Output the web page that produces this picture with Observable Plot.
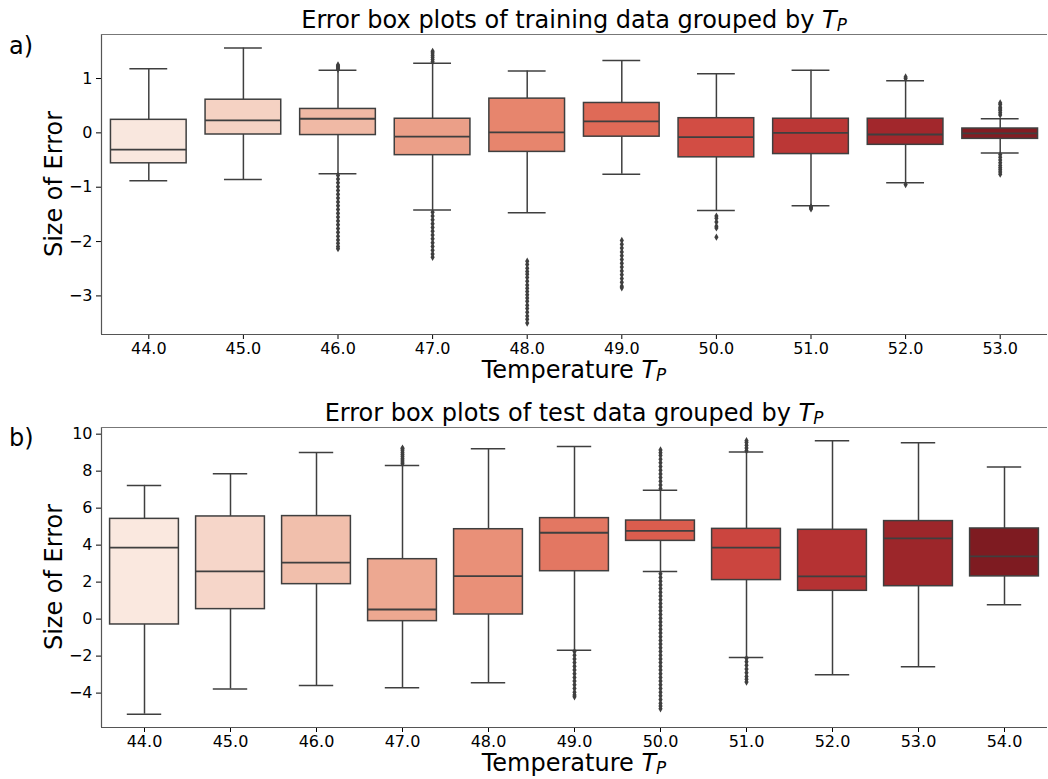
<!DOCTYPE html>
<html>
<head>
<meta charset="utf-8">
<script src="https://cdn.jsdelivr.net/npm/d3@7"></script>
<script src="https://cdn.jsdelivr.net/npm/@observablehq/plot@0.6"></script>
<style>
  html, body { margin: 0; padding: 0; background: #fff; }
  #wrap { position: relative; width: 1048px; height: 779px; font-family: "DejaVu Sans", sans-serif; color: #000; overflow: hidden; }
  .txt { position: absolute; font-size: 24px; line-height: 20px; white-space: nowrap; }
  .center { text-align: center; }
  .sub { font-size: 0.7em; position: relative; top: 0.22em; line-height: 0; }
  .panel { position: absolute; left: 0; }
</style>
</head>
<body>
<div id="wrap"></div>
<script>
// ---- Training data (panel a) ----
const trainTemps = ["44.0", "45.0", "46.0", "47.0", "48.0", "49.0", "50.0", "51.0", "52.0", "53.0"];
const trainWhiskLo = [-0.88, -0.86, -0.75, -1.42, -1.47, -0.76, -1.43, -1.34, -0.92, -0.37];
const trainQ1      = [-0.56, -0.03, -0.04, -0.41, -0.35, -0.07, -0.45, -0.39, -0.22, -0.11];
const trainMedian  = [-0.31,  0.23,  0.26, -0.07,  0.01,  0.21, -0.08,  0.00, -0.03, -0.01];
const trainQ3      = [ 0.24,  0.61,  0.44,  0.26,  0.63,  0.55,  0.27,  0.26,  0.26,  0.08];
const trainWhiskHi = [ 1.18,  1.56,  1.15,  1.28,  1.14,  1.33,  1.09,  1.15,  0.96,  0.26];
const trainOutliers = [
  [],
  [],
  [1.17, 1.19, 1.21, 1.23, 1.25,
   -0.78, -0.85, -0.92, -0.99, -1.06, -1.13, -1.2, -1.27, -1.34, -1.41, -1.48, -1.55,
   -1.62, -1.69, -1.76, -1.83, -1.9, -1.97, -2.03, -2.09, -2.13],
  [1.31, 1.35, 1.39, 1.43, 1.47, 1.5,
   -1.46, -1.53, -1.6, -1.67, -1.74, -1.81, -1.88, -1.95, -2.02, -2.09, -2.16, -2.23, -2.29],
  [-2.36, -2.42, -2.49, -2.55, -2.6, -2.66, -2.73, -2.8, -2.86, -2.92, -2.98, -3.04,
   -3.1, -3.17, -3.23, -3.3, -3.37, -3.43, -3.5],
  [-1.98, -2.05, -2.12, -2.19, -2.26, -2.33, -2.4, -2.47, -2.54, -2.61, -2.68, -2.75, -2.82, -2.85],
  [-1.53, -1.57, -1.64, -1.72, -1.75, -1.92],
  [-1.36, -1.38, -1.4],
  [1.0, 1.03, -0.95],
  [0.33, 0.37, 0.41, 0.44, 0.47, 0.52, 0.55,
   -0.4, -0.45, -0.5, -0.55, -0.6, -0.64, -0.68, -0.72, -0.76]
];
const trainTicksY = [-3, -2, -1, 0, 1];

// ---- Test data (panel b) ----
const testTemps = ["44.0", "45.0", "46.0", "47.0", "48.0", "49.0", "50.0", "51.0", "52.0", "53.0", "54.0"];
const testWhiskLo = [-5.14, -3.78, -3.59, -3.71, -3.44, -1.68, 2.58, -2.07, -3.01, -2.58, 0.77];
const testQ1      = [-0.29,  0.54,  1.89, -0.11,  0.25,  2.59, 4.23,  2.11,  1.53,  1.78, 2.31];
const testMedian  = [ 3.86,  2.58,  3.05,  0.52,  2.32,  4.67, 4.77,  3.86,  2.31,  4.36, 3.39];
const testQ3      = [ 5.42,  5.55,  5.57,  3.24,  4.86,  5.46, 5.33,  4.88,  4.83,  5.30, 4.90];
const testWhiskHi = [ 7.23,  7.86,  9.01,  8.31,  9.21,  9.33, 6.97,  9.03,  9.64,  9.53, 8.22];
const testOutliers = [
  [],
  [],
  [],
  [8.4, 8.5, 8.6, 8.7, 8.8, 8.9, 9.0, 9.1, 9.2, 9.25],
  [],
  [-1.75, -1.95, -2.15, -2.35, -2.55, -2.75, -2.95, -3.15, -3.35, -3.55, -3.75, -3.95, -4.1, -4.2],
  [7.05, 7.25, 7.45, 7.65, 7.85, 8.05, 8.25, 8.45, 8.65, 8.85, 9.0, 9.15,
   2.45, 2.25, 2.05, 1.85, 1.65, 1.45, 1.25, 1.05, 0.85, 0.65, 0.45, 0.25, 0.05,
   -0.15, -0.35, -0.55, -0.75, -0.95, -1.15, -1.35, -1.55, -1.75, -1.95, -2.15,
   -2.35, -2.55, -2.75, -2.95, -3.15, -3.35, -3.55, -3.75, -3.95, -4.15, -4.35,
   -4.55, -4.7, -4.85],
  [9.1, 9.25, 9.4, 9.55, 9.65,
   -2.12, -2.3, -2.5, -2.7, -2.9, -3.1, -3.25, -3.4],
  [],
  [],
  []
];
const testTicksY = [-4, -2, 0, 2, 4, 6, 8, 10];

// seaborn-style "Reds" palette, desaturated the way boxplot does (saturation 0.75)
function redsPalette(n) {
  return d3.range(n).map(i => {
    const c = d3.hsl(d3.interpolateReds((i + 1) / (n + 1)));
    c.s *= 0.75;
    return c.formatHex();
  });
}

const LINE = "#3f3f3f";
const minus = d => (d < 0 ? "\u2212" : "") + Math.abs(d);

function boxPanel({temps, lo, q1, med, q3, hi, outliers, yDomain, yTicks, height, marginTop, marginBottom}) {
  const colors = redsPalette(temps.length);
  const stats = temps.map((t, i) => ({i, t, lo: lo[i], q1: q1[i], med: med[i], q3: q3[i], hi: hi[i], color: colors[i]}));
  const pts = outliers.flatMap((vals, i) => vals.map(v => ({i, v})));
  const n = temps.length;
  const xDomain = [-0.5, n - 0.5];
  return Plot.plot({
    width: 1048,
    height,
    marginLeft: 101,
    marginRight: 1,
    marginTop,
    marginBottom,
    style: {fontFamily: "DejaVu Sans, sans-serif", fontSize: "16px", color: "#000", background: "transparent", overflow: "visible"},
    x: {domain: xDomain, ticks: d3.range(n), tickFormat: i => temps[i], tickSize: 5, tickPadding: 3, label: null},
    y: {domain: yDomain, ticks: yTicks, tickFormat: minus, tickSize: 5, tickPadding: 4, label: null},
    marks: [
      // whiskers
      Plot.ruleX(stats, {x: "i", y1: "lo", y2: "q1", stroke: LINE, strokeWidth: 1.5}),
      Plot.ruleX(stats, {x: "i", y1: "q3", y2: "hi", stroke: LINE, strokeWidth: 1.5}),
      // whisker caps
      Plot.ruleY(stats, {y: "lo", x1: d => d.i - 0.2, x2: d => d.i + 0.2, stroke: LINE, strokeWidth: 1.5}),
      Plot.ruleY(stats, {y: "hi", x1: d => d.i - 0.2, x2: d => d.i + 0.2, stroke: LINE, strokeWidth: 1.5}),
      // boxes
      Plot.rect(stats, {x1: d => d.i - 0.4, x2: d => d.i + 0.4, y1: "q1", y2: "q3", fill: "color", stroke: LINE, strokeWidth: 1.5}),
      // medians
      Plot.ruleY(stats, {y: "med", x1: d => d.i - 0.4, x2: d => d.i + 0.4, stroke: LINE, strokeWidth: 1.8}),
      // outliers
      Plot.dot(pts, {x: "i", y: "v", symbol: "diamond", r: 2.2, fill: LINE, stroke: "none"}),
      // spines: left, top, bottom
      Plot.ruleX([xDomain[0]], {stroke: "#555", strokeWidth: 1.2}),
      Plot.ruleY([yDomain[0]], {stroke: "#555", strokeWidth: 1.2}),
      Plot.ruleY([yDomain[1]], {stroke: "#777", strokeWidth: 1.2})
    ]
  });
}

const wrap = document.getElementById("wrap");

function addPanel(svg, top) {
  svg.classList.add("panel");
  svg.style.top = top + "px";
  wrap.appendChild(svg);
}

function addText(html, css, cls = "txt") {
  const el = document.createElement("div");
  el.className = cls;
  el.innerHTML = html;
  Object.assign(el.style, css);
  wrap.appendChild(el);
  return el;
}

const TP = '<i>T</i><i class="sub">P</i>';

// panel a
addPanel(boxPanel({
  temps: trainTemps, lo: trainWhiskLo, q1: trainQ1, med: trainMedian, q3: trainQ3, hi: trainWhiskHi,
  outliers: trainOutliers, yDomain: [-3.71, 1.81], yTicks: trainTicksY,
  height: 370, marginTop: 34, marginBottom: 36
}), 0);

// panel b
addPanel(boxPanel({
  temps: testTemps, lo: testWhiskLo, q1: testQ1, med: testMedian, q3: testQ3, hi: testWhiskHi,
  outliers: testOutliers, yDomain: [-5.86, 10.36], yTicks: testTicksY,
  height: 370, marginTop: 37, marginBottom: 33
}), 390);

// titles (baselines at 28 and 421)
addText("Error box plots of training data grouped by " + TP, {left: "101px", width: "946px", top: "9.7px"}, "txt center");
addText("Error box plots of test data grouped by " + TP, {left: "101px", width: "946px", top: "402.7px"}, "txt center");

// x-axis labels (baselines near 378 and 771)
addText("Temperature " + TP, {left: "101px", width: "946px", top: "359.7px"}, "txt center");
addText("Temperature " + TP, {left: "101px", width: "946px", top: "752.7px"}, "txt center");

// y-axis labels (rotated, baseline near x = 64)
for (const cy of [184, 577]) {
  addText("Size of Error", {left: (54 - 150) + "px", width: "300px", top: (cy - 10) + "px", transform: "rotate(-90deg)"}, "txt center");
}

// panel tags
addText("a)", {left: "9px", top: "35.7px"});
addText("b)", {left: "9px", top: "427.7px"});
</script>
</body>
</html>
